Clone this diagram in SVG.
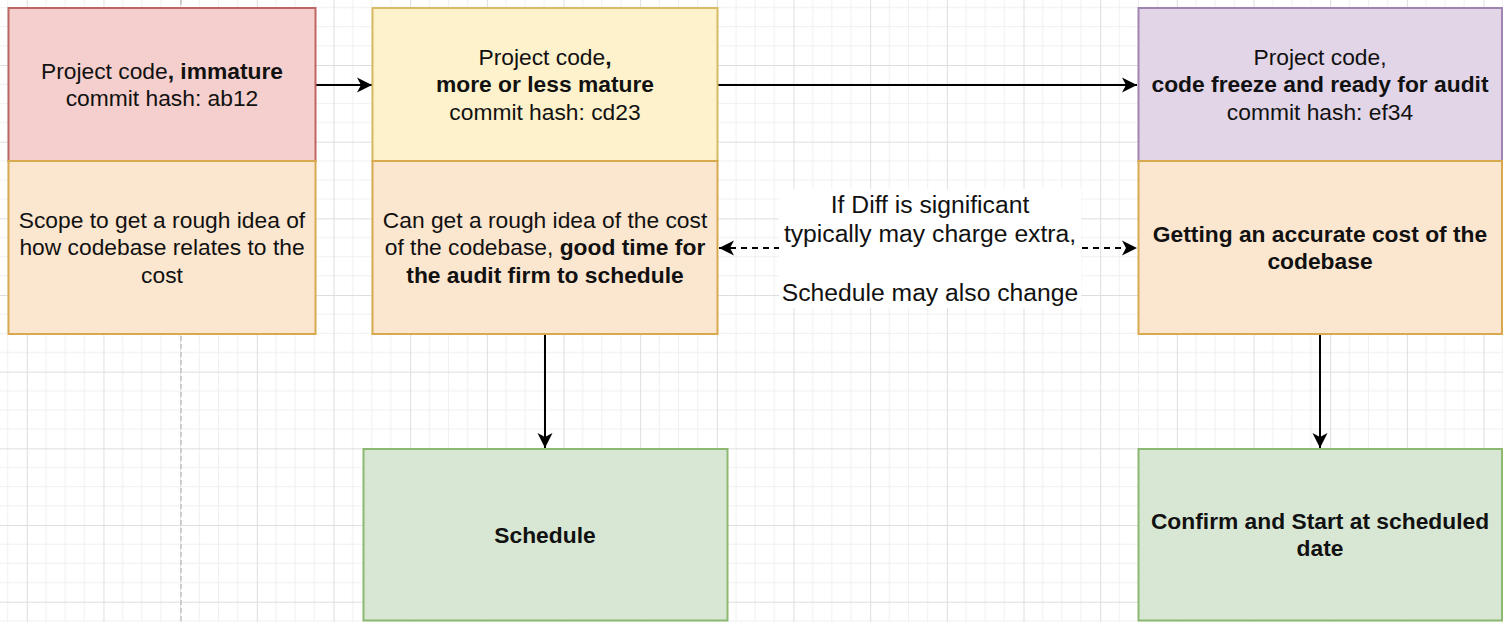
<svg xmlns="http://www.w3.org/2000/svg" width="1503" height="622" viewBox="0 0 1503 622">
  <defs>
    <!-- canvas grid: four minor cells per major cell -->
    <pattern id="grid" patternUnits="userSpaceOnUse" x="26.8" y="65" width="76.67" height="76.67">
      <path d="M19.17,0V76.67M38.33,0V76.67M57.5,0V76.67M0,19.17H76.67M0,38.33H76.67M0,57.5H76.67" stroke="#f0f0f0" stroke-width="1" fill="none"/>
      <path d="M0.5,0V76.67M0,0.5H76.67" stroke="#dedede" stroke-width="1" fill="none"/>
    </pattern>
    <marker id="arrow" viewBox="-16 -8 16 16" refX="0" refY="0" markerWidth="16" markerHeight="16" markerUnits="userSpaceOnUse" orient="auto-start-reverse">
      <path d="M0,0 L-15,-7.5 L-11,0 L-15,7.5 Z" fill="#000"/>
    </marker>
    <style>
      .box { stroke-width: 2; }
      .red { fill: #f4cfcd; stroke: #bd6663; }
      .orange { fill: #fbe6cf; stroke: #d8a94e; }
      .yellow { fill: #fdf2cc; stroke: #d8ba62; }
      .purple { fill: #e1d5e7; stroke: #a085b0; }
      .green { fill: #d8e7d4; stroke: #8cb872; }
      text { font-family: "Liberation Sans", Arial, Helvetica, sans-serif; font-size: 22.8px; fill: #111; text-anchor: middle; }
      .b { font-weight: bold; }
      .lbl { font-size: 24.7px; }
      .edge { stroke: #000; stroke-width: 2; fill: none; }
    </style>
  </defs>

  <rect width="1503" height="622" fill="#ffffff"/>
  <rect width="1503" height="622" fill="url(#grid)"/>
  <!-- page break guide -->
  <line x1="181" y1="0" x2="181" y2="622" stroke="#c4c4c4" stroke-width="1.5" stroke-dasharray="5 3"/>

  <g id="connectors">
    <line class="edge" x1="316" y1="85" x2="372" y2="85" marker-end="url(#arrow)"/>
    <line class="edge" x1="718" y1="85" x2="1137" y2="85" marker-end="url(#arrow)"/>
    <line class="edge" x1="545" y1="335" x2="545" y2="448" marker-end="url(#arrow)"/>
    <line class="edge" x1="1320" y1="335" x2="1320" y2="448" marker-end="url(#arrow)"/>
    <line class="edge" x1="719" y1="248" x2="1137" y2="248" stroke-dasharray="6 5" marker-start="url(#arrow)" marker-end="url(#arrow)"/>
    <g id="diff-label">
      <rect x="779" y="189" width="302" height="119" fill="#ffffff"/>
      <text class="lbl" x="930" y="212.5">If Diff is significant</text>
      <text class="lbl" x="930" y="241.5">typically may charge extra,</text>
      <text class="lbl" x="930" y="300.5">Schedule may also change</text>
    </g>
  </g>

  <g id="code-immature">
    <rect class="box red" x="8.5" y="8" width="307" height="153"/>
    <text x="162" y="78.5">Project code<tspan class="b">, immature</tspan></text>
    <text x="162" y="106">commit hash: ab12</text>
  </g>
  <g id="scope-immature">
    <rect class="box orange" x="8.5" y="161" width="307" height="173"/>
    <text x="162" y="227.7">Scope to get a rough idea of</text>
    <text x="162" y="255.1">how codebase relates to the</text>
    <text x="162" y="282.5">cost</text>
  </g>

  <g id="code-mature">
    <rect class="box yellow" x="372.5" y="8" width="345" height="153"/>
    <text x="545" y="64.8">Project code<tspan class="b">,</tspan></text>
    <text class="b" x="545" y="92.2">more or less mature</text>
    <text x="545" y="119.6">commit hash: cd23</text>
  </g>
  <g id="scope-mature">
    <rect class="box orange" x="372.5" y="161" width="345" height="173"/>
    <text x="545" y="227.7">Can get a rough idea of the cost</text>
    <text x="545" y="255.1">of the codebase, <tspan class="b">good time for</tspan></text>
    <text class="b" x="545" y="282.5">the audit firm to schedule</text>
  </g>

  <g id="code-freeze">
    <rect class="box purple" x="1138.5" y="8" width="363.5" height="153"/>
    <text x="1320" y="64.8">Project code,</text>
    <text class="b" x="1320" y="92.2">code freeze and ready for audit</text>
    <text x="1320" y="119.6">commit hash: ef34</text>
  </g>
  <g id="scope-freeze">
    <rect class="box orange" x="1138.5" y="161" width="363.5" height="173"/>
    <text class="b" x="1320" y="241.5">Getting an accurate cost of the</text>
    <text class="b" x="1320" y="268.9">codebase</text>
  </g>

  <g id="schedule">
    <rect class="box green" x="363.5" y="449" width="364" height="171.5"/>
    <text class="b" x="545" y="542.7">Schedule</text>
  </g>
  <g id="confirm-start">
    <rect class="box green" x="1138.5" y="449" width="363.5" height="171.5"/>
    <text class="b" x="1320" y="528.5">Confirm and Start at scheduled</text>
    <text class="b" x="1320" y="555.9">date</text>
  </g>
</svg>
